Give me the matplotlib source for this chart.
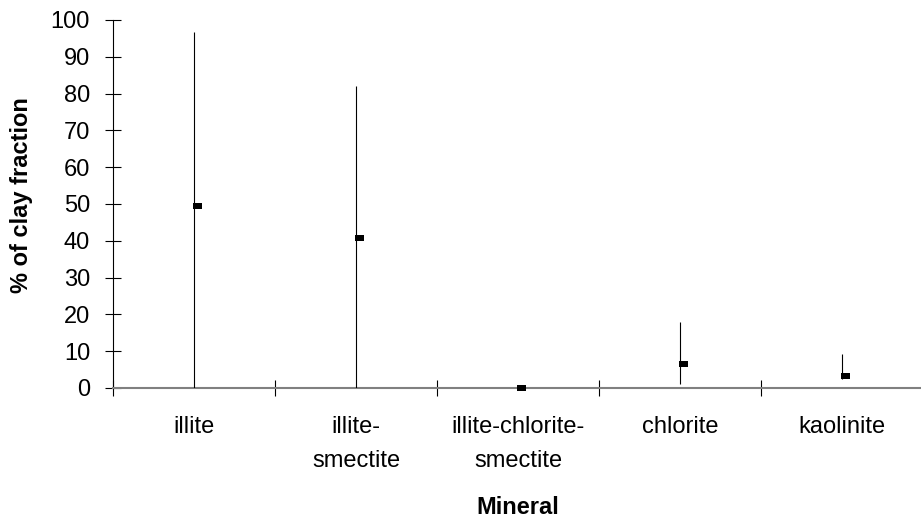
import matplotlib
matplotlib.use("Agg")
import matplotlib.pyplot as plt
from matplotlib.path import Path
import numpy as np

# Clay mineral composition: range (low-high) and mean, % of clay fraction
minerals = ["illite", "illite-\nsmectite", "illite-chlorite-\nsmectite", "chlorite", "kaolinite"]
high = [96.7, 82.0, 0.0, 18.0, 9.2]
low = [0.0, 0.0, 0.0, 1.2, 2.4]
mean = [49.5, 40.8, 0.0, 6.6, 3.3]
y_ticks = list(range(0, 101, 10))

plt.rcParams['font.family'] = ['Liberation Sans', 'DejaVu Sans']
FS = 17

fig = plt.figure(figsize=(9.21, 5.29), dpi=100)
ax = fig.add_axes([113 / 921, (529 - 388) / 529, 810 / 921, 368 / 529])

x = np.arange(1, len(minerals) + 1)

# high-low range lines
ax.vlines(x, low, high, color='black', lw=0.8, zorder=3)

# mean marker: small block sitting just right of the range line
mean_marker = Path(
    [(-0.1, -0.4), (1.0, -0.4), (1.0, 0.4), (-0.1, 0.4), (-0.1, -0.4)],
    [Path.MOVETO, Path.LINETO, Path.LINETO, Path.LINETO, Path.CLOSEPOLY],
)
ax.plot(x, mean, linestyle='none', marker=mean_marker, markersize=12,
        color='black', mec='black', mew=0, clip_on=False, zorder=4)

ax.set_xlim(0.5, len(minerals) + 0.5)
ax.set_ylim(0, 100)

# category separators as major ticks, names on minor ticks
ax.set_xticks(np.arange(0.5, len(minerals) + 1, 1.0))
ax.set_xticklabels([])
ax.set_xticks(x, minor=True)
ax.set_xticklabels(minerals, minor=True, fontsize=FS, linespacing=1.72)
ax.tick_params(axis='x', which='major', direction='inout', length=11.5,
               width=0.8, color='black')
ax.tick_params(axis='x', which='minor', length=0, pad=20)

ax.set_yticks(y_ticks)
ax.set_yticklabels([str(v) for v in y_ticks], fontsize=FS)
ax.tick_params(axis='y', direction='inout', length=12, width=0.8,
               color='black', pad=10.5)

for side in ('top', 'right'):
    ax.spines[side].set_visible(False)
ax.spines['left'].set_color('black')
ax.spines['left'].set_linewidth(0.8)
ax.spines['bottom'].set_color('#808080')
ax.spines['bottom'].set_linewidth(1.5)

ax.set_xlabel("Mineral", fontsize=FS, fontweight='bold', va='center')
ax.xaxis.set_label_coords(0.5, (388 - 507) / 368)
ax.set_ylabel("% of clay fraction", fontsize=FS, fontweight='bold', va='center')
ax.yaxis.set_label_coords((22 - 113) / 810, (388 - 195) / 368)

fig.savefig("out.png", dpi=100)
